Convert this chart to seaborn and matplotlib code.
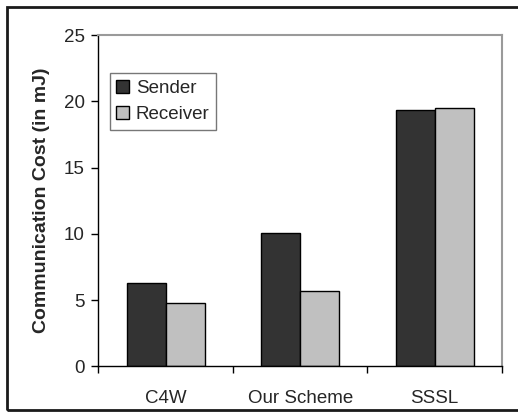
import numpy as np
import pandas as pd
import seaborn as sns
import matplotlib.pyplot as plt
from matplotlib.patches import Rectangle

schemes = ["C4W", "Our Scheme", "SSSL"]
sender = [6.25, 10.05, 19.35]
receiver = [4.75, 5.7, 19.5]
roles = ["Sender", "Receiver"]
role_colors = ["#333333", "#c0c0c0"]

df = pd.DataFrame({
    "scheme": schemes * 2,
    "role": [roles[0]] * 3 + [roles[1]] * 3,
    "cost": sender + receiver,
})

sns.set_style("white")
plt.rcParams['font.family'] = ['Liberation Sans', 'DejaVu Sans']

fig = plt.figure(figsize=(5.18, 4.12), dpi=100)
ax = fig.add_axes([0.19, 0.111, 0.779, 0.804])

sns.barplot(data=df, x="scheme", y="cost", hue="role", palette=role_colors,
            width=0.58, edgecolor="black", linewidth=1, saturation=1, ax=ax)

ax.set_xlim(-0.5, 2.5)
ax.set_ylim(0, 25)
ax.set_yticks(np.arange(0, 26, 5))
ax.tick_params(axis="y", direction="out", length=5, width=1, color="black",
               labelsize=13.5, left=True, pad=5)

# category ticks between groups, labels at centres
ax.set_xticks([-0.5, 0.5, 1.5, 2.5])
ax.set_xticklabels([])
ax.set_xticks([0, 1, 2], minor=True)
ax.set_xticklabels(schemes, minor=True)
ax.tick_params(axis="x", which="major", direction="out", length=5, width=1,
               color="black", bottom=True)
ax.tick_params(axis="x", which="minor", length=0, labelsize=13.5, pad=17)

ax.set_xlabel("")
ax.set_ylabel("Communication Cost (in mJ)", fontsize=14, fontweight="bold", labelpad=10)

for s in ["left", "bottom"]:
    ax.spines[s].set_color("black")
    ax.spines[s].set_linewidth(1)
for s in ["top", "right"]:
    ax.spines[s].set_color("#9a9a9a")
    ax.spines[s].set_linewidth(1.5)

leg = ax.legend(loc="upper left", bbox_to_anchor=(0.028, 0.885), fontsize=13.5,
                frameon=True, fancybox=False, edgecolor="#555555",
                handlelength=0.7, handleheight=0.7, handletextpad=0.35,
                borderpad=0.35, labelspacing=0.5, borderaxespad=0)
leg.get_frame().set_linewidth(1)

# outer chart border
fig.patches.append(Rectangle((7 / 518, 2 / 412), 1.2, 403 / 412, transform=fig.transFigure,
                             fill=False, edgecolor="#1a1a1a", linewidth=2))

fig.savefig("out.png", dpi=100)
